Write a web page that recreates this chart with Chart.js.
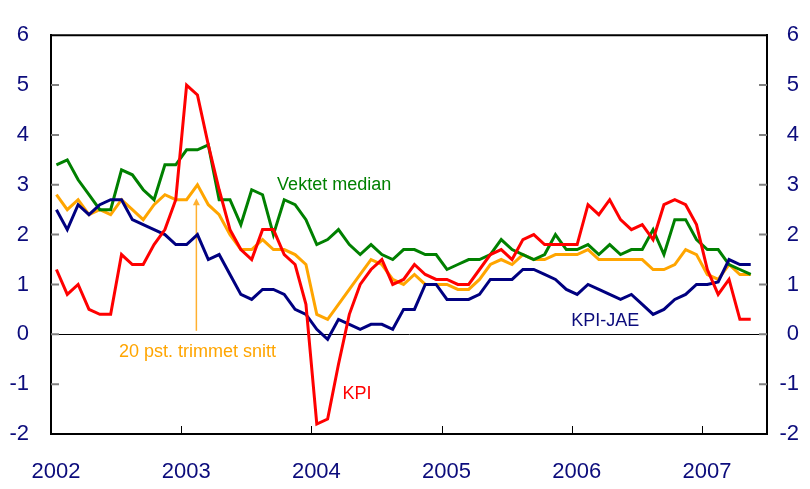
<!DOCTYPE html>
<html>
<head>
<meta charset="utf-8">
<script src="https://cdn.jsdelivr.net/npm/chart.js@4.4.1/dist/chart.umd.min.js"></script>
<style>
  html, body { margin: 0; padding: 0; background: #fff; }
  #wrap { width: 810px; height: 489px; }
</style>
</head>
<body>
<div id="wrap"><canvas id="lineChart"></canvas></div>
<script>
// one label per year, tick at january
const years = ['2002', '2003', '2004', '2005', '2006', '2007'];

// monthly, jan 2002 - may 2007
const kpi = [
  1.3, 0.8, 1.0, 0.5, 0.4, 0.4, 1.6, 1.4, 1.4, 1.8, 2.1, 2.7,
  5.0, 4.8, 3.8, 2.9, 2.1, 1.7, 1.5, 2.1, 2.1, 1.6, 1.4, 0.6,
  -1.8, -1.7, -0.6, 0.4, 1.0, 1.3, 1.5, 1.0, 1.1, 1.4, 1.2, 1.1,
  1.1, 1.0, 1.0, 1.3, 1.6, 1.7, 1.5, 1.9, 2.0, 1.8, 1.8, 1.8,
  1.8, 2.6, 2.4, 2.7, 2.3, 2.1, 2.2, 1.9, 2.6, 2.7, 2.6, 2.2,
  1.3, 0.8, 1.1, 0.3, 0.3
];
const kpiJae = [
  2.5, 2.1, 2.6, 2.4, 2.6, 2.7, 2.7, 2.3, 2.2, 2.1, 2.0, 1.8,
  1.8, 2.0, 1.5, 1.6, 1.2, 0.8, 0.7, 0.9, 0.9, 0.8, 0.5, 0.4,
  0.1, -0.1, 0.3, 0.2, 0.1, 0.2, 0.2, 0.1, 0.5, 0.5, 1.0, 1.0,
  0.7, 0.7, 0.7, 0.8, 1.1, 1.1, 1.1, 1.3, 1.3, 1.2, 1.1, 0.9,
  0.8, 1.0, 0.9, 0.8, 0.7, 0.8, 0.6, 0.4, 0.5, 0.7, 0.8, 1.0,
  1.0, 1.05, 1.5, 1.4, 1.4
];
const vektetMedian = [
  3.4, 3.5, 3.1, 2.8, 2.5, 2.5, 3.3, 3.2, 2.9, 2.7, 3.4, 3.4,
  3.7, 3.7, 3.8, 2.7, 2.7, 2.2, 2.9, 2.8, 2.0, 2.7, 2.6, 2.3,
  1.8, 1.9, 2.1, 1.8, 1.6, 1.8, 1.6, 1.5, 1.7, 1.7, 1.6, 1.6,
  1.3, 1.4, 1.5, 1.5, 1.6, 1.9, 1.7, 1.6, 1.5, 1.6, 2.0, 1.7,
  1.7, 1.8, 1.6, 1.8, 1.6, 1.7, 1.7, 2.1, 1.6, 2.3, 2.3, 1.9,
  1.7, 1.7, 1.4, 1.3, 1.2
];
const trimmetSnitt = [
  2.8, 2.5, 2.7, 2.4, 2.5, 2.4, 2.7, 2.5, 2.3, 2.6, 2.8, 2.7,
  2.7, 3.0, 2.6, 2.4, 2.0, 1.7, 1.7, 1.9, 1.7, 1.7, 1.6, 1.4,
  0.4, 0.3, 0.6, 0.9, 1.2, 1.5, 1.4, 1.1, 1.0, 1.2, 1.0, 1.0,
  1.0, 0.9, 0.9, 1.1, 1.4, 1.5, 1.4, 1.6, 1.5, 1.5, 1.6, 1.6,
  1.6, 1.7, 1.5, 1.5, 1.5, 1.5, 1.5, 1.3, 1.3, 1.4, 1.7, 1.6,
  1.2, 1.1, 1.4, 1.2, 1.2
];

const navy = '#0c0c7c';
const font = "'Liberation Sans', Arial, sans-serif";

// points sit in the middle of each month
function toPoints(arr) {
  return arr.map((v, i) => ({ x: i + 0.5, y: v }));
}

const extras = {
  id: 'extras',
  beforeDatasetsDraw(chart) {
    const { ctx, chartArea: a, scales } = chart;
    const x = scales.x, y = scales.y;
    ctx.save();
    // inward tick marks on both y axes
    ctx.strokeStyle = '#808080';
    ctx.lineWidth = 2;
    for (let v = -1; v <= 5; v++) {
      const py = y.getPixelForValue(v);
      ctx.beginPath();
      ctx.moveTo(a.left, py); ctx.lineTo(a.left + 8, py);
      ctx.moveTo(a.right - 8, py); ctx.lineTo(a.right, py);
      ctx.stroke();
    }
    // year ticks pointing up
    ctx.strokeStyle = '#000';
    ctx.lineWidth = 1;
    for (let i = 1; i < years.length; i++) {
      const px = Math.round(x.getPixelForValue(i * 12)) + 0.5;
      ctx.beginPath();
      ctx.moveTo(px, a.bottom); ctx.lineTo(px, a.bottom - 8);
      ctx.stroke();
    }
    // top frame line
    ctx.lineWidth = 2;
    ctx.beginPath();
    ctx.moveTo(a.left, a.top); ctx.lineTo(a.right, a.top);
    ctx.stroke();

    // arrow up to the trimmed mean
    const ax = x.getPixelForValue(13.4);
    const y0 = y.getPixelForValue(0.07);
    const y1 = y.getPixelForValue(2.73);
    ctx.strokeStyle = '#ffb030';
    ctx.fillStyle = '#ffb030';
    ctx.lineWidth = 1.5;
    ctx.beginPath();
    ctx.moveTo(ax, y0); ctx.lineTo(ax, y1 + 5);
    ctx.stroke();
    ctx.beginPath();
    ctx.moveTo(ax, y1); ctx.lineTo(ax - 3.5, y1 + 7); ctx.lineTo(ax + 3.5, y1 + 7);
    ctx.closePath();
    ctx.fill();

    // series names
    ctx.font = '18px ' + font;
    ctx.textAlign = 'center';
    ctx.textBaseline = 'middle';
    const notes = [
      ['Vektet median', 26.1, 3.0, '#008000'],
      ['KPI', 28.2, -1.2, '#ff0000'],
      ['KPI-JAE', 51.1, 0.27, navy],
      ['20 pst. trimmet snitt', 13.5, -0.35, '#ffa500']
    ];
    notes.forEach(n => {
      ctx.fillStyle = n[3];
      ctx.fillText(n[0], x.getPixelForValue(n[1]), y.getPixelForValue(n[2]));
    });
    ctx.restore();
  }
};

const ctx1 = document.getElementById('lineChart');
const lineChart = new Chart(ctx1, {
  type: 'line',
  data: {
    datasets: [
      { label: 'KPI', data: toPoints(kpi), borderColor: '#ff0000' },
      { label: 'KPI-JAE', data: toPoints(kpiJae), borderColor: '#000080' },
      { label: 'Vektet median', data: toPoints(vektetMedian), borderColor: '#008000' },
      { label: '20 pst. trimmet snitt', data: toPoints(trimmetSnitt), borderColor: '#ffa500' }
    ]
  },
  options: {
    responsive: true,
    maintainAspectRatio: false,
    animation: false,
    devicePixelRatio: 1,
    layout: { padding: { top: 18, right: 11, bottom: 0, left: 0 } },
    elements: {
      line: { borderWidth: 3, tension: 0, fill: false },
      point: { radius: 0, hoverRadius: 0 }
    },
    plugins: {
      legend: { display: false },
      tooltip: { enabled: false }
    },
    scales: {
      x: {
        type: 'linear',
        min: 0,
        max: 66,
        afterBuildTicks: s => { s.ticks = years.map((yr, i) => ({ value: i * 12 })); },
        afterFit: s => { s.height = 55; },
        grid: { display: false, drawTicks: false },
        border: { display: true, color: '#000', width: 2 },
        ticks: {
          padding: 25,
          labelOffset: 5,
          maxRotation: 0,
          autoSkip: false,
          color: navy,
          font: { family: font, size: 22 },
          callback: v => years[Math.round(v / 12)]
        }
      },
      y: {
        position: 'left',
        min: -2,
        max: 6,
        afterFit: s => { s.width = 51; },
        grid: {
          drawTicks: false,
          color: c => (c.tick && c.tick.value === 0) ? '#000' : 'rgba(0,0,0,0)',
          lineWidth: 1
        },
        border: { display: true, color: '#000', width: 2 },
        ticks: {
          stepSize: 1,
          padding: 22,
          color: navy,
          font: { family: font, size: 22 }
        }
      },
      y2: {
        position: 'right',
        min: -2,
        max: 6,
        afterFit: s => { s.width = 32; },
        grid: { display: false, drawTicks: false },
        border: { display: true, color: '#000', width: 2 },
        ticks: {
          stepSize: 1,
          crossAlign: 'far',
          color: navy,
          font: { family: font, size: 22 }
        }
      }
    }
  },
  plugins: [extras]
});
</script>
</body>
</html>
